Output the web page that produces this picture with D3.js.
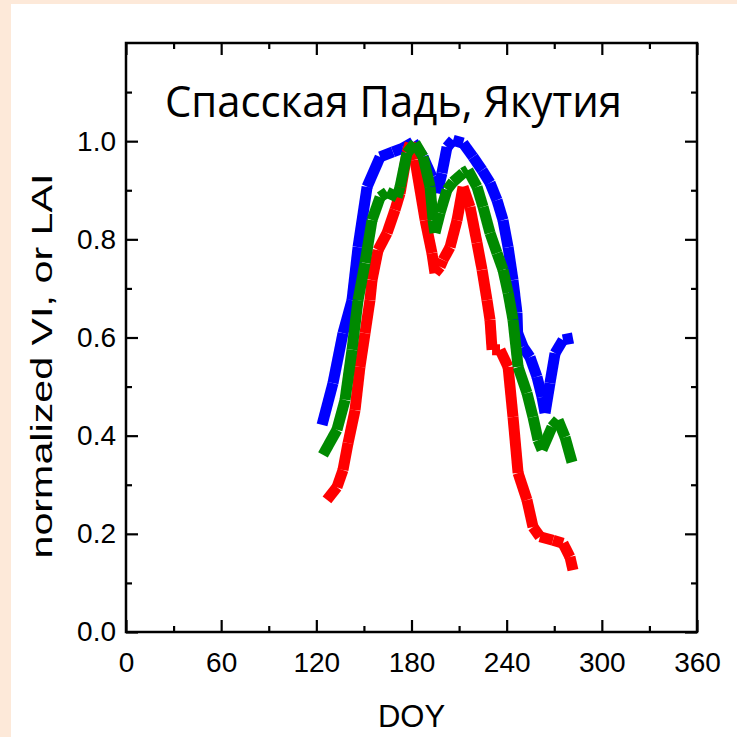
<!DOCTYPE html>
<html>
<head>
<meta charset="utf-8">
<script src="https://cdn.jsdelivr.net/npm/d3@7"></script>
<style>
	html, body { margin: 0; padding: 0; background: #fde9d9; }
	svg { display: block; }
	.tickLabel text { font-family: 'Liberation Sans', Arial, sans-serif; font-size: 28px; fill: #000; }
</style>
</head>
<body>
<svg id="chart" width="737" height="737"></svg>
<script>
// x: day of year, y: normalized VI / LAI
const blueDoy = [123.6, 130.5, 136.8, 142.5, 146.3, 152.0, 160.2, 168.3, 174.7, 181.0, 187.3, 192.9, 196.1, 199.2, 202.4, 206.2, 212.5, 218.8, 224.5, 229.5, 233.9, 237.7, 240.9, 244.0, 246.5, 246.9, 250.3, 254.7, 259.1, 262.3, 264.2, 267.3, 270.5, 275.5, 281.8];
const blueVal = [0.422, 0.507, 0.609, 0.676, 0.784, 0.907, 0.968, 0.978, 0.986, 0.998, 0.968, 0.927, 0.894, 0.935, 0.988, 1.002, 0.996, 0.968, 0.941, 0.915, 0.880, 0.839, 0.784, 0.717, 0.650, 0.609, 0.581, 0.560, 0.520, 0.479, 0.446, 0.507, 0.568, 0.595, 0.599];

const redDoy = [126.7, 133.0, 136.8, 140.0, 144.4, 147.5, 150.7, 153.8, 155.1, 158.9, 164.6, 169.6, 172.8, 177.2, 179.1, 182.2, 188.6, 192.9, 194.8, 198.0, 199.9, 204.3, 208.7, 212.5, 216.9, 221.3, 224.5, 227.6, 229.5, 230.8, 235.8, 240.9, 244.0, 247.2, 252.8, 256.6, 261.0, 269.2, 275.5, 279.9, 281.8];
const redVal = [0.269, 0.295, 0.330, 0.385, 0.452, 0.540, 0.609, 0.676, 0.717, 0.778, 0.813, 0.860, 0.894, 0.976, 0.996, 0.962, 0.839, 0.772, 0.731, 0.744, 0.758, 0.784, 0.839, 0.907, 0.866, 0.793, 0.738, 0.676, 0.636, 0.575, 0.575, 0.540, 0.438, 0.324, 0.269, 0.214, 0.194, 0.187, 0.181, 0.153, 0.126];

const greenDoy = [124.2, 133.0, 138.1, 142.5, 146.3, 150.7, 155.1, 160.2, 164.6, 170.9, 172.8, 177.2, 182.2, 187.3, 191.7, 193.6, 194.8, 198.0, 202.4, 206.2, 212.5, 215.6, 221.3, 225.1, 229.5, 233.9, 237.7, 240.9, 244.0, 247.2, 252.8, 256.6, 259.8, 262.3, 268.6, 272.4, 276.8, 281.2];
const greenVal = [0.361, 0.412, 0.473, 0.575, 0.676, 0.752, 0.839, 0.886, 0.896, 0.886, 0.907, 0.976, 0.996, 0.968, 0.907, 0.839, 0.813, 0.854, 0.901, 0.917, 0.935, 0.941, 0.907, 0.866, 0.813, 0.772, 0.738, 0.691, 0.636, 0.540, 0.487, 0.438, 0.391, 0.371, 0.418, 0.432, 0.397, 0.346];

const xMajorTicks = [0, 60, 120, 180, 240, 300, 360];
const xMinorTicks = [30, 90, 150, 210, 270, 330];
const yMajorTicks = [0, 0.2, 0.4, 0.6, 0.8, 1.0];
const yMinorTicks = [0.1, 0.3, 0.5, 0.7, 0.9, 1.1];

const titleText = 'Спасская Падь, Якутия';
const xLabel = 'DOY';
const yLabel = 'normalized VI, or LAI';

/***** SETUP *****/
const width = 737;
const height = 737;
const margin = { top: 43, left: 126, right: 40, bottom: 105 };
const plotWidth = width - margin.left - margin.right;
const plotHeight = height - margin.top - margin.bottom;

const svg = d3.select('#chart');

// white panel over the peach page
svg.append('rect')
	.attr('x', 11)
	.attr('y', 4)
	.attr('width', width - 11)
	.attr('height', height - 4)
	.attr('fill', '#fff');

const xScale = d3.scaleLinear().domain([0, 360]).range([0, plotWidth]);
const yScale = d3.scaleLinear().domain([0, 1.2]).range([plotHeight, 0]);

const plot = svg.append('g').attr('transform', `translate(${margin.left}, ${margin.top})`);

/***** LINES *****/
// each segment drawn on its own with butt caps, gives the notched look of the original
const series = [
	{ doy: blueDoy, val: blueVal, color: '#0000ff' },
	{ doy: redDoy, val: redVal, color: '#ff0000' },
	{ doy: greenDoy, val: greenVal, color: '#008a00' }
];

const line = d3.line()
	.x(function(d) { return xScale(d[0]); })
	.y(function(d) { return yScale(d[1]); });

series.forEach(function(s) {
	const pts = s.doy.map(function(d, i) { return [d, s.val[i]]; });
	plot.append('g')
		.selectAll('path')
		.data(d3.pairs(pts))
		.enter()
		.append('path')
		.attr('d', line)
		.attr('fill', 'none')
		.attr('stroke', s.color)
		.attr('stroke-width', 11)
		.attr('stroke-linecap', 'butt');
});

/***** AXES *****/
function styleAxis(g) {
	g.select('.domain').remove();
	g.selectAll('line').attr('stroke', '#000').attr('stroke-width', 2.2);
}

plot.append('g')
	.attr('class', 'tickLabel')
	.attr('transform', `translate(0, ${plotHeight})`)
	.call(d3.axisBottom(xScale).tickValues(xMajorTicks).tickSize(-12).tickPadding(20).tickFormat(d3.format('d')))
	.call(styleAxis)
	.selectAll('text').attr('font-family', null).attr('font-size', null);

plot.append('g')
	.attr('transform', `translate(0, ${plotHeight})`)
	.call(d3.axisBottom(xScale).tickValues(xMinorTicks).tickSize(-6).tickFormat(''))
	.call(styleAxis);

plot.append('g')
	.call(d3.axisTop(xScale).tickValues(xMajorTicks).tickSize(-12).tickFormat(''))
	.call(styleAxis);

plot.append('g')
	.call(d3.axisTop(xScale).tickValues(xMinorTicks).tickSize(-6).tickFormat(''))
	.call(styleAxis);

plot.append('g')
	.attr('class', 'tickLabel')
	.call(d3.axisLeft(yScale).tickValues(yMajorTicks).tickSize(-12).tickPadding(10).tickFormat(d3.format('.1f')))
	.call(styleAxis)
	.selectAll('text').attr('font-family', null).attr('font-size', null);

plot.append('g')
	.call(d3.axisLeft(yScale).tickValues(yMinorTicks).tickSize(-6).tickFormat(''))
	.call(styleAxis);

plot.append('g')
	.attr('transform', `translate(${plotWidth}, 0)`)
	.call(d3.axisRight(yScale).tickValues(yMajorTicks).tickSize(-12).tickFormat(''))
	.call(styleAxis);

plot.append('g')
	.attr('transform', `translate(${plotWidth}, 0)`)
	.call(d3.axisRight(yScale).tickValues(yMinorTicks).tickSize(-6).tickFormat(''))
	.call(styleAxis);

// frame
plot.append('rect')
	.attr('width', plotWidth)
	.attr('height', plotHeight)
	.attr('fill', 'none')
	.attr('stroke', '#000')
	.attr('stroke-width', 2.5);

/***** LABELS *****/
svg.append('text')
	.attr('x', margin.left + plotWidth / 2)
	.attr('y', 727)
	.attr('text-anchor', 'middle')
	.attr('font-family', 'Liberation Sans, Arial, sans-serif')
	.attr('font-size', 31)
	.text(xLabel);

svg.append('text')
	.attr('transform', 'translate(52, 366) rotate(-90)')
	.attr('text-anchor', 'middle')
	.attr('font-family', 'Liberation Sans, Arial, sans-serif')
	.attr('font-size', 30)
	.attr('textLength', 385)
	.attr('lengthAdjust', 'spacingAndGlyphs')
	.text(yLabel);

svg.append('text')
	.attr('x', 165)
	.attr('y', 117)
	.attr('font-family', 'Open Sans, Noto Sans, sans-serif')
	.attr('font-size', 44)
	.attr('textLength', 457)
	.attr('lengthAdjust', 'spacingAndGlyphs')
	.text(titleText);
</script>
</body>
</html>
